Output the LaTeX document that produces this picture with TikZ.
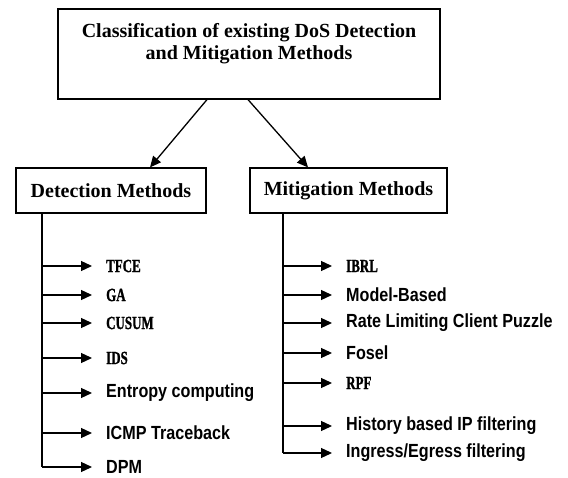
\documentclass[tikz,border=0pt]{standalone}
\usepackage{graphicx}
\usepackage{fontspec}
\setmainfont{Liberation Serif}
\newfontfamily\itemsans[FakeStretch=0.85]{Liberation Sans}
\newfontfamily\heavyserif[BoldFeatures={FakeBold=1.5}]{Liberation Serif}
\newcommand\sq[1]{\scalebox{0.7}[1]{#1}}
\usetikzlibrary{arrows.meta}
\tikzset{
  box/.style={draw, line width=1.2pt, inner sep=0pt, font=\fontsize{20}{22}\selectfont\bfseries},
  arr/.style={line width=1.3pt, -{Triangle[length=11pt,width=10pt]}},
  trunk/.style={line width=1.3pt},
  itm/.style={anchor=west, inner xsep=14pt, inner ysep=0pt, font=\fontsize{19}{19}\selectfont\itemsans\bfseries},
  itmserif/.style={itm, font=\fontsize{18.5}{18.5}\selectfont\heavyserif\bfseries},
}
\begin{document}
\begin{tikzpicture}[x=1pt,y=-1pt]
\useasboundingbox (0,0) rectangle (568,478);
\node[box, minimum width=382pt, minimum height=90pt] (top) at (249,54) {\raisebox{0pt}[11pt][0pt]{\begin{tabular}[b]{@{}c@{}}Classification of existing DoS Detection\\and Mitigation Methods\end{tabular}}};
\node[box, minimum width=190pt, minimum height=45pt] (det) at (111,190.5) {Detection Methods};
\node[box, minimum width=197pt, minimum height=45pt] (mit) at (348.5,190.5) {Mitigation Methods};
\draw[arr] ([xshift=-42pt]top.south) -- ([xshift=39pt]det.north);
\draw[arr] ([xshift=-1pt]top.south) -- ([xshift=-40.5pt]mit.north);
% detection items
\node[itmserif] (d1) at (92,266) {\sq{TFCE}};
\node[itmserif] (d2) at (92,295) {\sq{GA}};
\node[itmserif] (d3) at (92,323) {\sq{CUSUM}};
\node[itmserif] (d4) at (92,358) {\sq{IDS}};
\node[itm] (d5) at (92,393) {Entropy computing};
\node[itm] (d6) at (92,433) {ICMP Traceback};
\node[itm] (d7) at (92,467) {DPM};
\coordinate (dtop) at ([xshift=-69pt]det.south);
\draw[trunk] (dtop) -- (dtop |- d7.west);
\foreach \n in {d1,d2,d3,d4,d5,d6,d7} \draw[arr] (dtop |- \n.west) -- (\n.west);
% mitigation items
\node[itmserif] (m1) at (332,266) {\sq{IBRL}};
\node[itm] (m2) at (332,295) {Model-Based};
\node[itm] (m3) at (332,323) {Rate Limiting Client Puzzle};
\node[itm] (m4) at (332,353) {Fosel};
\node[itmserif] (m5) at (332,383) {\sq{RPF}};
\node[itm] (m6) at (332,426) {History based IP filtering};
\node[itm] (m7) at (332,453) {Ingress/Egress filtering};
\coordinate (mtop) at ([xshift=-65.5pt]mit.south);
\draw[trunk] (mtop) -- (mtop |- m7.west);
\foreach \n in {m1,m2,m3,m4,m5,m6,m7} \draw[arr] (mtop |- \n.west) -- (\n.west);
\end{tikzpicture}
\end{document}
